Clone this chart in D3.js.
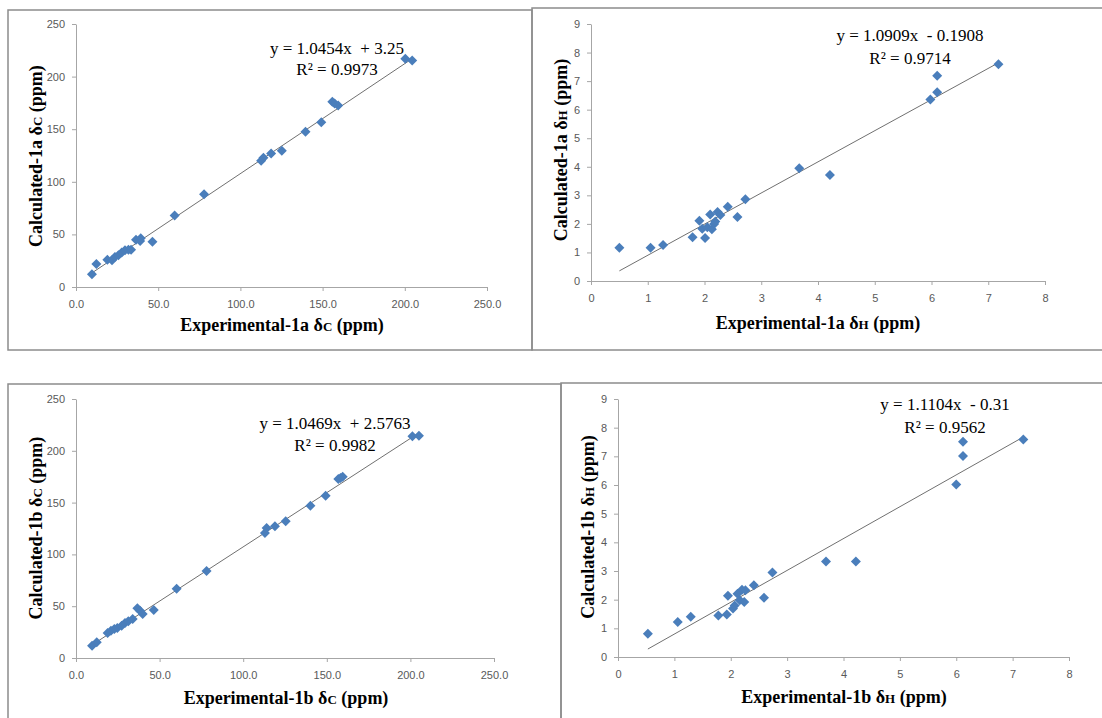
<!DOCTYPE html>
<html>
<head>
<meta charset="utf-8">
<script src="https://cdn.jsdelivr.net/npm/d3@7"></script>
<style>
  body { margin: 0; background: #fff; }
  .tick text { font-family: "Liberation Sans", Arial, sans-serif; font-size: 11px; fill: #595959; }
  .axis-title { font-family: "Liberation Serif", "Times New Roman", serif; font-weight: bold; font-size: 18px; fill: #000; }
  .eq { font-family: "Liberation Serif", "Times New Roman", serif; font-size: 17px; fill: #000; white-space: pre; }
</style>
</head>
<body>
<div id="chart"></div>
<script>
// experimental vs calculated shifts
var expC1a = [9.7, 12.4, 19.1, 21.9, 23.7, 25.8, 27.8, 29.8, 31.9, 33.5, 36.5, 39.0, 39.4, 46.5, 60.0, 77.9, 112.6, 114.0, 118.7, 125.2, 139.6, 149.2, 155.9, 157.3, 159.5, 200.3, 204.5];
var calcC1a = [12.1, 21.9, 26.0, 25.4, 28.6, 30.1, 32.7, 34.9, 35.5, 35.5, 45.0, 43.8, 46.3, 43.1, 67.9, 88.2, 119.9, 122.8, 126.9, 129.4, 147.5, 156.7, 176.1, 174.5, 172.6, 217.0, 215.4];

var expH1a = [0.50, 1.05, 1.27, 1.79, 1.91, 1.96, 2.01, 2.05, 2.10, 2.13, 2.17, 2.19, 2.23, 2.28, 2.41, 2.58, 2.72, 3.67, 4.21, 5.98, 6.10, 6.10, 7.18];
var calcH1a = [1.16, 1.16, 1.26, 1.53, 2.11, 1.83, 1.51, 1.88, 2.33, 1.81, 2.00, 2.08, 2.42, 2.31, 2.60, 2.24, 2.86, 3.95, 3.71, 6.36, 6.61, 7.19, 7.59];

var expC1b = [9.6, 12.4, 18.9, 20.9, 22.9, 24.7, 27.3, 29.3, 31.3, 33.9, 36.7, 38.3, 39.9, 46.5, 60.2, 78.1, 113.0, 114.0, 119.0, 125.4, 140.2, 149.3, 156.9, 158.2, 159.5, 201.2, 205.1];
var calcC1b = [11.9, 15.1, 24.1, 26.4, 28.0, 29.0, 31.2, 33.8, 35.4, 37.6, 47.9, 45.7, 42.5, 46.3, 66.9, 84.0, 120.7, 125.5, 127.1, 131.9, 147.0, 156.7, 172.8, 173.7, 174.9, 214.0, 214.6];

var expH1b = [0.53, 1.06, 1.29, 1.78, 1.93, 1.95, 2.04, 2.07, 2.12, 2.16, 2.20, 2.24, 2.26, 2.41, 2.59, 2.74, 3.69, 4.22, 6.00, 6.12, 6.12, 7.19];
var calcH1b = [0.81, 1.22, 1.40, 1.45, 1.48, 2.14, 1.69, 1.80, 2.21, 1.98, 2.35, 1.92, 2.33, 2.50, 2.07, 2.95, 3.33, 3.33, 6.02, 7.01, 7.51, 7.59];

var fitSlope = [1.0454, 1.0909, 1.0469, 1.1104];
var fitIntercept = [3.25, -0.1908, 2.5763, -0.31];
var eqLabels = ["y = 1.0454x  + 3.25", "y = 1.0909x  - 0.1908", "y = 1.0469x  + 2.5763", "y = 1.1104x  - 0.31"];
var r2Labels = ["R\u00b2 = 0.9973", "R\u00b2 = 0.9714", "R\u00b2 = 0.9982", "R\u00b2 = 0.9562"];

var cTicksY = [0, 50, 100, 150, 200, 250];
var cTicksX = [0, 50, 100, 150, 200, 250];
var hTicksY = [0, 1, 2, 3, 4, 5, 6, 7, 8, 9];
var hTicksX = [0, 1, 2, 3, 4, 5, 6, 7, 8];

var svg = d3.select("#chart").append("svg")
  .attr("width", 1102)
  .attr("height", 718);

// panel frames
var frames = [
  {x: 8, y: 10, w: 524, h: 340},
  {x: 532, y: 8, w: 580, h: 342},
  {x: 8, y: 384, w: 553, h: 350},
  {x: 561, y: 383, w: 550, h: 350}
];
frames.forEach(function(f) {
  svg.append("rect")
    .attr("x", f.x).attr("y", f.y)
    .attr("width", f.w).attr("height", f.h)
    .attr("fill", "none")
    .attr("stroke", "#8c8c8c")
    .attr("stroke-width", 1.5);
});

var panels = [
  {xs: expC1a, ys: calcC1a, nuc: "C", cmp: "1a", xr: [76, 487], yr: [287, 24], xMax: 250, yMax: 250,
   xt: cTicksX, yt: cTicksY, xFmt: ".1f", yFmt: "d",
   xTitle: [282, 331], yTitle: [36, 156], eq: [337, 54], r2: [337, 75]},
  {xs: expH1a, ys: calcH1a, nuc: "H", cmp: "1a", xr: [591, 1045], yr: [281, 24], xMax: 8, yMax: 9,
   xt: hTicksX, yt: hTicksY, xFmt: "d", yFmt: "d",
   xTitle: [818, 329], yTitle: [561, 150], eq: [910, 41], r2: [910, 64]},
  {xs: expC1b, ys: calcC1b, nuc: "C", cmp: "1b", xr: [76, 494], yr: [658, 399], xMax: 250, yMax: 250,
   xt: cTicksX, yt: cTicksY, xFmt: ".1f", yFmt: "d",
   xTitle: [286, 704], yTitle: [36, 528], eq: [335, 429], r2: [335, 451]},
  {xs: expH1b, ys: calcH1b, nuc: "H", cmp: "1b", xr: [618, 1069], yr: [657, 399], xMax: 8, yMax: 9,
   xt: hTicksX, yt: hTicksY, xFmt: "d", yFmt: "d",
   xTitle: [844, 703], yTitle: [588, 527], eq: [945, 410], r2: [945, 433]}
];

var diamond = d3.symbol().type(d3.symbolSquare).size(50);

panels.forEach(function(p, i) {
  var x = d3.scaleLinear().domain([0, p.xMax]).range(p.xr);
  var y = d3.scaleLinear().domain([0, p.yMax]).range(p.yr);
  var g = svg.append("g");

  var xAxis = g.append("g")
    .attr("transform", `translate(0,${p.yr[0]})`)
    .call(d3.axisBottom(x).tickValues(p.xt).tickFormat(d3.format(p.xFmt))
      .tickSize(4).tickSizeOuter(0).tickPadding(9));
  var yAxis = g.append("g")
    .attr("transform", `translate(${p.xr[0]},0)`)
    .call(d3.axisLeft(y).tickValues(p.yt).tickFormat(d3.format(p.yFmt))
      .tickSize(4).tickSizeOuter(0).tickPadding(7));
  [xAxis, yAxis].forEach(function(a) {
    a.selectAll("path, line").attr("stroke", "#a6a6a6");
  });

  // trendline over the data range
  var x0 = d3.min(p.xs), x1 = d3.max(p.xs);
  g.append("line")
    .attr("x1", x(x0)).attr("y1", y(fitSlope[i] * x0 + fitIntercept[i]))
    .attr("x2", x(x1)).attr("y2", y(fitSlope[i] * x1 + fitIntercept[i]))
    .attr("stroke", "#707070")
    .attr("stroke-width", 1);

  g.selectAll("path.pt")
    .data(d3.range(p.xs.length))
    .enter()
    .append("path")
    .attr("class", "pt")
    .attr("d", diamond)
    .attr("transform", d => `translate(${x(p.xs[d])},${y(p.ys[d])}) rotate(45)`)
    .attr("fill", "#4a7ebb");

  var xt = g.append("text")
    .attr("class", "axis-title")
    .attr("x", p.xTitle[0]).attr("y", p.xTitle[1])
    .attr("text-anchor", "middle");
  xt.append("tspan").text(`Experimental-${p.cmp}  \u03b4`);
  xt.append("tspan").attr("font-size", "13px").text(p.nuc);
  xt.append("tspan").text(" (ppm)");

  var yt = g.append("text")
    .attr("class", "axis-title")
    .attr("transform", `translate(${p.yTitle[0]},${p.yTitle[1]}) rotate(-90)`)
    .attr("dy", "0.35em")
    .attr("text-anchor", "middle");
  yt.append("tspan").text(`Calculated-${p.cmp} \u03b4`);
  yt.append("tspan").attr("font-size", "13px").text(p.nuc);
  yt.append("tspan").text(" (ppm)");

  g.append("text").attr("class", "eq")
    .attr("x", p.eq[0]).attr("y", p.eq[1])
    .attr("text-anchor", "middle")
    .text(eqLabels[i]);
  g.append("text").attr("class", "eq")
    .attr("x", p.r2[0]).attr("y", p.r2[1])
    .attr("text-anchor", "middle")
    .text(r2Labels[i]);
});
</script>
</body>
</html>
